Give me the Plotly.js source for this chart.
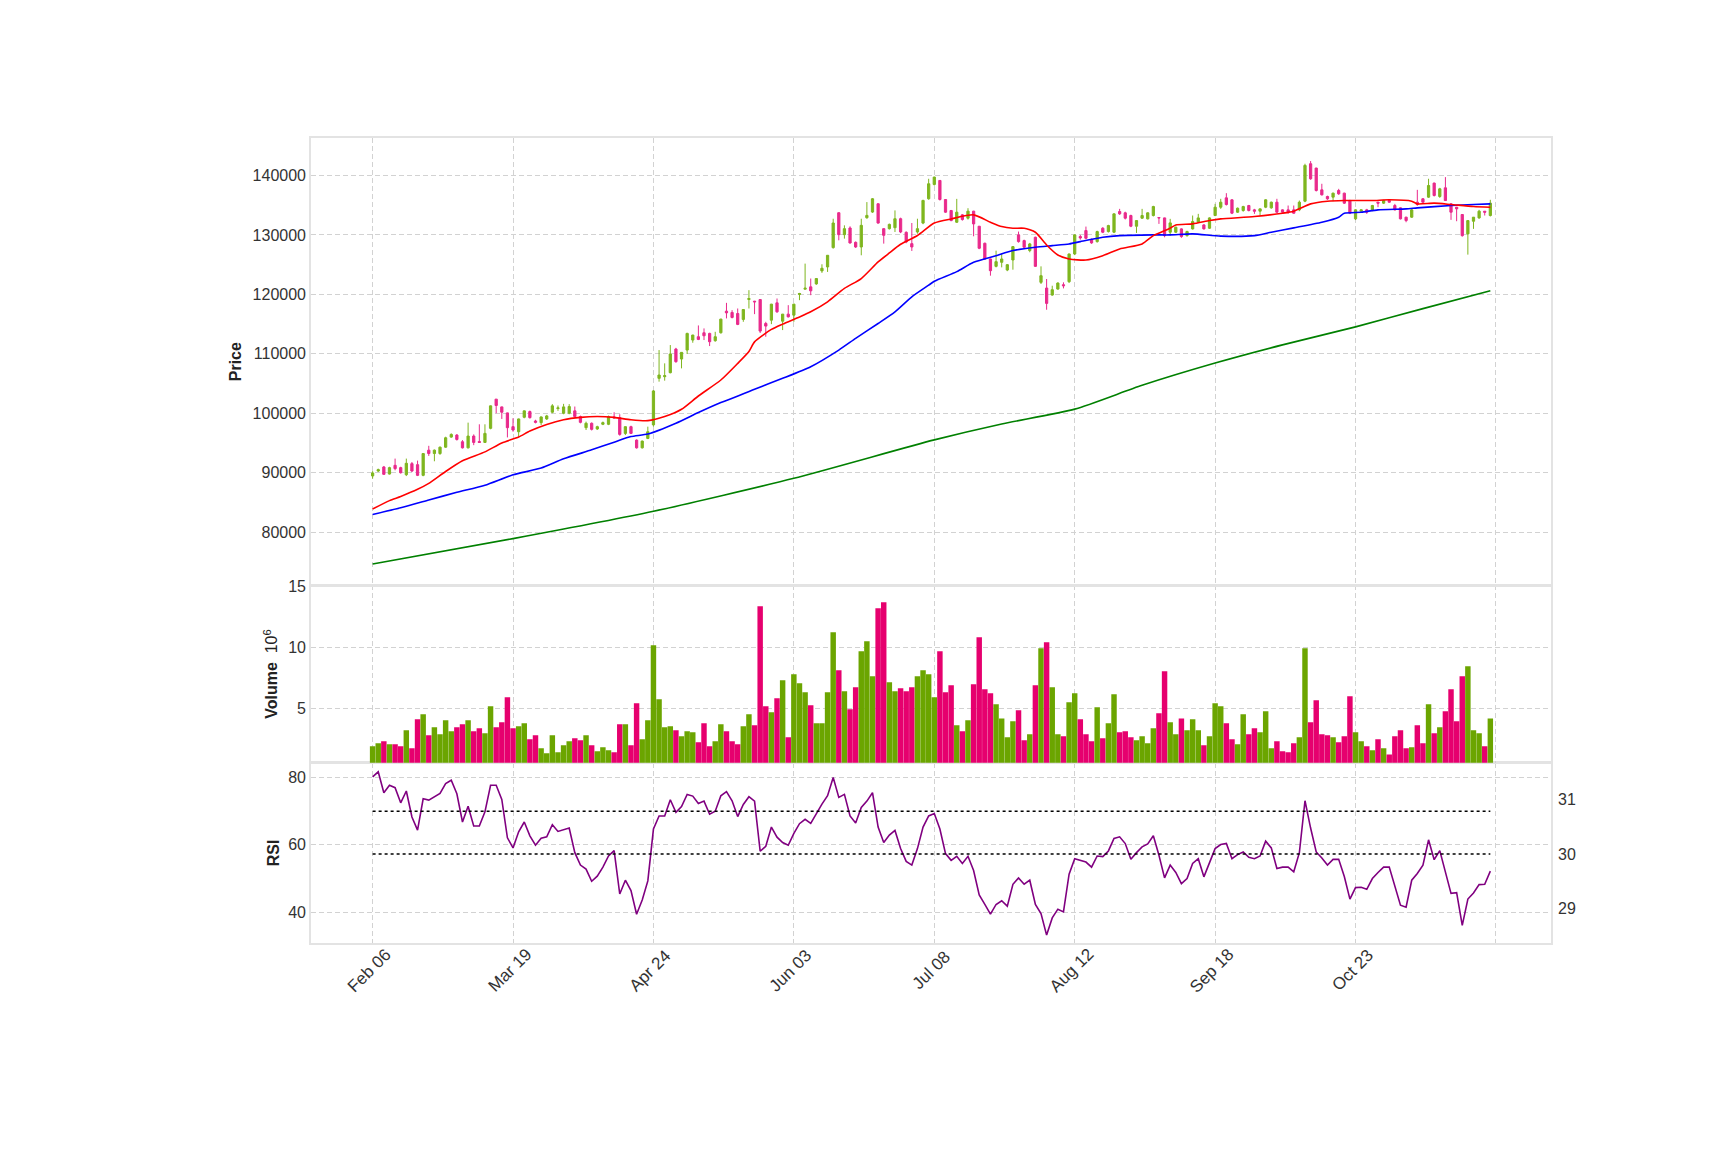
<!DOCTYPE html>
<html>
<head>
<meta charset="utf-8">
<script src="https://cdn.plot.ly/plotly-3.0.1.min.js"></script>
<style>html,body{margin:0;padding:0;background:#fff;}#chart{width:1725px;height:1150px;}</style>
</head>
<body>
<div id="chart"></div>
<script>
// ---- DATA ----
const tickIndex = [0, 25, 50, 75, 100, 125, 150, 175, 200];
const tickLabels = ["Feb 06", "Mar 19", "Apr 24", "Jun 03", "Jul 08", "Aug 12", "Sep 18", "Oct 23", ""];

const openPrices = [
89450,90280,90960,89770,91240,90850,89660,91520,91350,89550,
93790,93220,93220,94290,95990,96330,95200,94180,96160,95250,
95090,97460,102370,101070,100060,97740,96890,99320,100280,98700,
98420,99040,100170,100790,100000,100000,100400,99440,97570,98310,
97350,98140,98140,99380,99270,96610,97740,95480,94180,95760,
98040,105870,106150,106820,110800,109120,110630,112310,112870,113540,
113430,112200,113540,117170,116950,116780,115780,119130,118850,119130,
115100,115660,118570,115490,116670,116500,119970,120870,121260,121760,
123940,124610,127860,133730,130040,131160,128750,127970,132890,133840,
135240,131050,131050,131210,132720,130430,128530,130490,131990,136080,
138490,139160,135950,134100,132130,133370,132810,133990,131460,128590,
125950,124710,125390,124090,125780,130000,129040,127360,129600,122020,
121060,119880,120890,121620,122130,126790,129720,130730,129210,128870,
131120,130560,130450,133930,133710,133260,131460,132810,132700,133260,
132920,132860,130450,130450,131010,129880,131010,132130,131680,131120,
133260,134660,136230,135900,133820,134100,134940,134210,133990,134660,
134550,135500,134210,134210,134210,134210,135670,141970,141240,137580,
136460,136350,137470,137020,135780,132700,133990,134210,134100,135500,
135340,135780,134940,134550,132980,132980,135500,136070,136350,138710,
136460,137920,135220,134660,133430,130170,132300,132860,133990,133260];

const highPrices = [
90250,90680,91130,91000,92370,91000,92370,91800,92030,93300,
94520,93900,94400,96050,96610,96500,95480,98420,96440,98140,
98140,101300,102400,101100,100100,99150,99100,100450,100450,98900,
99450,99720,101530,101300,101580,101530,101130,99600,98590,98450,
97900,98600,99600,100170,99830,97800,97900,95600,95400,97740,
103900,110630,108390,111470,111000,110300,113540,113200,114770,114270,
113540,113700,115900,118570,117340,117620,117500,120700,118900,119200,
115380,118400,119300,116700,118180,118400,120250,125170,122660,122700,
125060,126600,132720,133800,131610,131440,128900,132720,135520,136200,
135300,131100,131900,134120,132900,130600,132000,132720,135900,139440,
139800,139200,136000,134200,136060,133500,134490,134050,131500,128700,
126000,127350,126790,125100,128100,130560,129200,128650,129700,124710,
122580,121450,122020,122020,126850,130100,130000,131400,129400,130700,
131300,131700,133600,134380,133900,133400,132500,134380,133800,134900,
133000,132900,132700,131400,131100,130700,133260,133540,131800,132950,
135220,136070,137020,136000,134600,134900,135050,134380,134400,136000,
135600,136070,134300,134940,134940,135780,141970,142420,141300,138600,
136600,137100,137750,137100,135900,134300,134300,134380,135050,135550,
135900,135900,135220,134600,133050,134380,137580,136200,139440,138800,
137920,139720,135300,134700,133500,132450,133000,134210,134000,135900];

const lowPrices = [
89000,90110,89660,89700,90400,89850,89430,90100,89430,89400,
92820,91920,93000,94180,95870,95400,94070,94070,94630,95000,
95000,97300,100000,99040,95930,96890,96050,99150,99100,98300,
98020,98870,100000,100400,99830,99830,99270,98300,97180,97100,
97200,98000,98000,99150,96220,96330,96500,94050,94070,95650,
97760,105310,105480,106710,108500,107550,109960,111860,112300,112310,
111300,112030,113400,115950,115950,114820,115380,117620,116670,113500,
112870,114990,116890,113990,116110,115380,119020,120810,119860,121600,
123610,123770,127690,129090,129370,128530,127800,126570,132720,133700,
131890,128530,130900,130490,130300,128600,127300,130210,131800,135910,
138300,135780,133700,132300,132020,132400,132580,129770,127600,125800,
123140,124540,124540,123900,124150,128700,127800,127080,124600,121740,
117410,119770,120780,121000,121900,126600,129200,129300,128500,128700,
130300,130400,130300,133370,132600,131300,130330,132700,132600,133100,
131850,129600,129880,130300,129500,129700,130900,132020,130900,131000,
133150,134380,134940,133500,133700,133900,133950,133540,133260,134500,
134400,133700,133700,133540,133540,133990,135500,139270,137300,136630,
135900,135670,136740,135200,133500,132500,133900,133540,133990,134660,
135200,135400,134100,132600,132130,132860,134900,135400,136230,136460,
136230,135700,132530,132300,129700,126680,131010,132700,133260,133100];

const closePrices = [
89950,90510,89720,90850,90680,90000,91580,90280,89550,93220,
93220,93790,94290,95870,96440,95590,94180,96160,95090,95090,
96610,101240,101300,100170,97570,97180,99040,100400,99260,98470,
99380,99550,101240,100900,101070,101130,99440,98470,98310,97290,
97740,98420,99440,99210,96440,97740,96610,94180,95310,96890,
103750,106430,106320,109960,108670,110240,113430,113150,112420,113030,
112030,112870,115830,116890,116110,114940,117450,119300,118740,113820,
114660,118350,117060,116670,116220,118350,120140,121030,120590,122660,
124390,126570,132000,130040,131050,128640,127970,131610,133280,136080,
131990,129930,131770,132720,130490,128810,127970,131050,135800,138600,
139720,135950,133820,132410,133820,132580,133990,131850,127750,125950,
123980,125500,125950,124990,128030,128870,127920,128480,124710,123140,
118480,120780,121900,121450,126790,130000,129490,129430,128650,130560,
130450,131570,133540,133540,132810,131460,132410,133260,133710,134770,
132860,129880,132020,131290,129720,130560,132240,132860,131010,132860,
134660,135500,135110,133650,134490,134770,134100,133990,134380,135900,
135500,133820,133820,133820,133650,135500,141690,139440,137470,136740,
136070,137020,136910,135340,133650,134210,134210,133820,134940,135340,
135780,135500,134210,132700,132410,134210,135110,135500,138310,136630,
137750,135780,133820,134380,129880,132410,132980,133990,133820,135340];

// volume, in units of 10^6
const volumeMillions = [
1.91,2.16,2.32,2.07,2.07,1.91,3.22,1.75,4.12,4.53,
2.81,3.47,2.89,4.04,3.14,3.47,3.71,4.04,3.14,3.39,
2.98,5.19,3.47,3.88,5.93,3.39,3.55,3.80,2.48,2.81,
1.75,1.34,2.81,1.42,1.99,2.32,2.57,2.40,2.81,1.99,
1.50,1.83,1.58,1.42,3.71,3.71,1.99,5.43,2.48,4.04,
10.19,5.76,3.47,3.55,3.22,2.73,3.14,3.06,2.24,3.80,
1.91,2.32,3.71,3.14,2.32,2.07,3.55,4.53,3.63,13.38,
5.19,4.70,5.84,7.32,2.65,7.81,7.07,6.34,5.27,3.80,
3.80,6.34,11.25,8.14,6.42,4.94,6.75,9.70,10.52,7.65,
13.22,13.71,7.16,6.42,6.66,6.42,6.75,7.65,8.14,7.81,
5.93,9.70,6.34,6.91,3.63,3.14,4.04,6.99,10.84,6.58,
6.25,5.35,4.20,2.65,3.96,4.86,2.40,2.89,6.91,9.94,
10.43,6.75,2.89,2.73,5.52,6.25,4.12,2.89,2.32,5.11,
2.57,3.80,6.17,3.06,3.14,2.65,2.40,2.73,2.16,3.39,
4.61,8.06,3.88,2.89,4.20,3.22,4.12,3.22,1.99,2.73,
5.43,5.19,3.80,2.48,2.07,4.53,2.89,3.39,3.06,4.78,
1.75,2.32,1.50,1.42,2.16,2.65,9.94,3.88,5.68,2.89,
2.81,2.65,2.24,2.73,6.01,3.06,2.32,1.91,1.58,2.48,
1.75,1.25,2.73,3.22,1.75,1.83,3.63,2.16,5.35,2.98,
3.47,4.78,6.58,3.96,7.65,8.47,3.22,2.98,1.91,4.20];

const rsiValues = [
80.2,81.7,75.5,77.7,77.0,72.5,76.0,68.3,64.4,73.7,
73.3,74.4,75.3,78.2,79.2,75.2,66.8,71.5,65.6,65.6,
69.8,77.7,77.7,73.5,62.1,59.1,63.9,66.8,62.7,59.9,
62.0,62.4,66.0,64.0,64.6,65.0,57.7,54.0,52.8,49.2,
50.7,53.4,56.7,58.3,45.4,49.5,46.4,39.4,43.6,49.3,
64.7,68.6,68.6,73.4,69.7,71.4,75.0,74.5,72.3,73.0,
69.1,70.0,74.6,75.8,73.1,68.4,72.0,74.3,73.0,58.1,
59.6,65.3,62.3,60.7,59.9,63.4,66.3,67.6,66.4,69.3,
72.1,74.6,80.0,74.1,75.0,68.6,66.5,71.1,73.0,75.5,
65.3,60.7,62.9,64.3,58.9,55.1,54.0,58.9,65.3,68.6,
69.3,64.7,57.4,55.4,56.6,54.5,56.6,52.4,45.1,42.3,
39.4,42.3,43.4,41.8,48.3,50.2,48.3,49.5,42.3,39.6,
33.2,38.3,40.9,40.1,51.3,55.9,55.4,54.9,53.4,56.7,
56.5,58.2,61.9,62.4,60.4,55.7,57.7,59.4,60.3,62.7,
56.9,50.2,54.0,51.8,48.5,50.0,54.5,55.9,50.5,54.8,
58.9,60.1,60.4,55.9,57.1,57.9,56.3,55.9,56.7,61.1,
59.1,53.0,53.4,53.4,52.0,57.7,73.1,65.0,57.9,56.1,
54.0,55.7,55.7,50.6,43.9,47.3,47.4,46.8,50.0,51.8,
53.4,53.4,47.8,42.1,41.5,49.5,51.5,54.0,61.5,55.6,
58.3,52.2,45.6,45.8,36.1,43.9,45.7,48.2,48.3,52.2];

// moving averages, read at sampled bar indices
const maRedIdx = [0,3,5,8,10,13,16,20,23,26,28,31,34,37,40,43,46,49,52,55,58,62,65,67,68,71,73,76,78,81,84,87,90,92,94,97,100,103,107,110,112,114,116,118,120,122,124,127,130,133,137,139,142,143,146,149,151,157,162,164,167,170,173,178,181,185,186,189,192,196,199];
const maRedVal = [83880,85300,86000,87200,88200,90200,92000,93500,95000,96000,97000,98100,98900,99300,99450,99300,98900,98750,99440,100670,102900,105590,108390,110400,112000,114100,114990,116200,117060,118740,121000,122660,125450,126960,128420,129900,132000,132690,133370,132130,131400,131120,131120,130450,128310,126620,125950,125780,126510,127640,128480,129880,131120,131680,131850,132410,132690,133090,133650,133990,135220,135670,135780,135780,135900,135670,135220,135340,135110,134770,134660];

const maBlueIdx = [0,5,10,15,20,25,30,34,39,43,46,49,54,58,62,68,73,78,83,86,90,93,96,99,100,104,107,111,114,118,121,124,126,130,133,139,142,146,151,157,160,164,169,172,173,176,179,184,186,192,196,199];
const maBlueVal = [82970,84100,85400,86700,87900,89650,90770,92330,93840,95130,96080,96500,98320,100110,101790,104030,105870,107830,110630,112590,115100,117060,119580,121540,122200,123820,125390,126510,127360,127920,128200,128480,128870,129600,129880,130000,130000,130170,129800,129880,130450,131180,132130,132980,133650,133820,134210,134380,134550,134940,135110,135220];

const maGreenIdx = [0,25,50,75,100,112,125,137,150,162,175,187,199];
const maGreenVal = [74650,78910,83510,89060,95520,98200,100690,104700,108440,111500,114530,117600,120620];

const rsiUpper = 70;   // dotted line on the left RSI axis
const rsiLower = 30;   // dotted line on the right RSI axis

// ---- styling ----
const upCol = '#6ba500', downCol = '#e6006e';
const upCandle = '#7fb61f', downCandle = '#e9298b';
const FONT = 'Liberation Sans, Arial, sans-serif';
const TFONT = 'Liberation Sans Narrow, Liberation Sans, Arial, sans-serif';
const idx = closePrices.map((_, i) => i);
const volColors = closePrices.map((c, i) => c >= openPrices[i] ? upCol : downCol);
const first = idx[0], last = idx[idx.length - 1];

const traces = [
  {type: 'candlestick', x: idx, open: openPrices, high: highPrices, low: lowPrices, close: closePrices,
   xaxis: 'x3', yaxis: 'y3', whiskerwidth: 0,
   increasing: {line: {color: upCandle, width: 1}, fillcolor: upCandle},
   decreasing: {line: {color: downCandle, width: 1}, fillcolor: downCandle},
   hoverinfo: 'skip', showlegend: false},
  {type: 'scatter', mode: 'lines', x: maGreenIdx, y: maGreenVal, xaxis: 'x3', yaxis: 'y3',
   line: {color: '#008000', width: 1.6, shape: 'spline', smoothing: 0.6}, hoverinfo: 'skip', showlegend: false},
  {type: 'scatter', mode: 'lines', x: maBlueIdx, y: maBlueVal, xaxis: 'x3', yaxis: 'y3',
   line: {color: '#0000ff', width: 1.6, shape: 'spline', smoothing: 0.6}, hoverinfo: 'skip', showlegend: false},
  {type: 'scatter', mode: 'lines', x: maRedIdx, y: maRedVal, xaxis: 'x3', yaxis: 'y3',
   line: {color: '#ff0000', width: 1.6, shape: 'spline', smoothing: 0.6}, hoverinfo: 'skip', showlegend: false},
  {type: 'bar', x: idx, y: volumeMillions, xaxis: 'x2', yaxis: 'y2', width: 0.97,
   marker: {color: volColors, line: {width: 0}}, hoverinfo: 'skip', showlegend: false},
  {type: 'scatter', mode: 'lines', x: idx, y: rsiValues, xaxis: 'x', yaxis: 'y',
   line: {color: '#800080', width: 1.6}, hoverinfo: 'skip', showlegend: false},
  {type: 'scatter', mode: 'lines', x: [first, last], y: [rsiUpper, rsiUpper], xaxis: 'x', yaxis: 'y',
   line: {color: '#000000', width: 1.6, dash: 'dot'}, hoverinfo: 'skip', showlegend: false},
  {type: 'scatter', mode: 'lines', x: [first, last], y: [rsiLower, rsiLower], xaxis: 'x', yaxis: 'y4',
   line: {color: '#000000', width: 1.6, dash: 'dot'}, hoverinfo: 'skip', showlegend: false}
];

const xr = [-10.97, 209.8];
const gridCol = '#d2d2d2', frameCol = '#e3e3e3';
function xax(extra) {
  return Object.assign({range: xr, tickvals: tickIndex, ticktext: tickLabels, showgrid: true,
    gridcolor: gridCol, griddash: '5px,3px', gridwidth: 1, zeroline: false, showline: true,
    linecolor: frameCol, linewidth: 1.8, mirror: true, ticks: '', fixedrange: true,
    showticklabels: false, rangeslider: {visible: false}}, extra);
}
function yax(extra) {
  return Object.assign({showgrid: true, gridcolor: gridCol, griddash: '5px,3px', gridwidth: 1,
    zeroline: false, showline: true, linecolor: frameCol, linewidth: 1.8, mirror: true, ticks: '',
    tickfont: {family: FONT, size: 16, color: '#333'}, fixedrange: true}, extra);
}

// x tick labels centred on their ticks and rotated by 45 degrees
const xLabelAnnotations = tickIndex.map((t, k) => ({
  x: t, xref: 'x', y: -0.0345, yref: 'paper', text: tickLabels[k], showarrow: false,
  textangle: -45, xanchor: 'center', yanchor: 'middle', xshift: -3,
  font: {family: FONT, size: 17, color: '#333'}
})).filter(a => a.text !== '');

const layout = {
  width: 1725, height: 1150,
  margin: {l: 311.3, r: 173.8, t: 137.5, b: 207.2, pad: 0},
  paper_bgcolor: '#ffffff', plot_bgcolor: '#ffffff',
  showlegend: false, boxgap: 0.43,
  font: {family: FONT, size: 16, color: '#333'},
  annotations: xLabelAnnotations,
  xaxis: xax({anchor: 'y'}),
  xaxis2: xax({anchor: 'y2', matches: 'x'}),
  xaxis3: xax({anchor: 'y3', matches: 'x'}),
  yaxis: yax({domain: [0, 0.2240], range: [30.85, 84.42], tickvals: [40, 60, 80],
    title: {text: '<b>RSI</b>', font: {family: TFONT, size: 16, color: '#222'}, standoff: 4}}),
  yaxis2: yax({domain: [0.2240, 0.4443], range: [0.57, 15.1], tickvals: [5, 10, 15],
    title: {text: '<b>Volume</b>  10<sup>6</sup>', font: {family: TFONT, size: 16, color: '#222'}, standoff: 6}}),
  yaxis3: yax({domain: [0.4443, 1], range: [71050, 146300],
    tickvals: [80000, 90000, 100000, 110000, 120000, 130000, 140000],
    ticktext: ['80000', '90000', '100000', '110000', '120000', '130000', '140000'],
    title: {text: '<b>Price</b>', font: {family: TFONT, size: 16, color: '#222'}, standoff: 7}}),
  yaxis4: {overlaying: 'y', anchor: 'x', side: 'right', range: [28.365, 31.675],
    tickvals: [29, 30, 31], showgrid: false, zeroline: false, showline: false, ticks: '',
    ticklabelstandoff: 6,
    tickfont: {family: FONT, size: 16, color: '#333'}, fixedrange: true}
};

Plotly.newPlot('chart', traces, layout, {staticPlot: true, displayModeBar: false});
</script>
</body>
</html>
